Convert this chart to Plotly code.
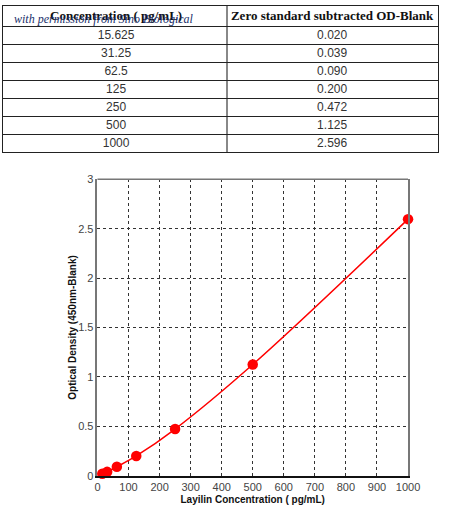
import plotly.graph_objects as go

# ---- data ----
concentration_labels = ["15.625", "31.25", "62.5", "125", "250", "500", "1000"]
od_labels = ["0.020", "0.039", "0.090", "0.200", "0.472", "1.125", "2.596"]
concentration = [15.625, 31.25, 62.5, 125, 250, 500, 1000]
od_values = [0.020, 0.039, 0.090, 0.200, 0.472, 1.125, 2.596]
header_labels = ["Concentration ( pg/mL)", "Zero standard subtracted OD-Blank"]
x_tick_values = [0, 100, 200, 300, 400, 500, 600, 700, 800, 900, 1000]
y_tick_values = [0, 0.5, 1, 1.5, 2, 2.5, 3]
y_tick_text = ["0", "0.5", "1", "1.5", "2", "2.5", "3"]

W, H = 450, 524

def px_x(p):
    return p / W

def px_y(p):
    return 1 - p / H

# ---- table layout (pixel units of the table axes) ----
TABLE_H = 149.5
HEADER_H = 21
ROW_H = (TABLE_H - HEADER_H) / len(concentration_labels)
COL_SPLIT = 232
COL_CENTERS = [117, 340.5]
row_bounds = [HEADER_H + i * ROW_H for i in range(len(concentration_labels))]
row_centers = [HEADER_H + (i + 0.5) * ROW_H + 0.5 for i in range(len(concentration_labels))]

fig = go.Figure()

# header texts
fig.add_trace(go.Scatter(
    x=COL_CENTERS, y=[HEADER_H / 2 + 0.5] * 2, text=["<b>%s</b>" % h for h in header_labels],
    mode="text", textposition="middle center", hoverinfo="skip",
    textfont=dict(family="Liberation Serif", size=13, color="#111"),
    xaxis="x2", yaxis="y2", showlegend=False,
))
# body cells
fig.add_trace(go.Scatter(
    x=[COL_CENTERS[0]] * len(concentration_labels), y=row_centers, text=concentration_labels,
    mode="text", textposition="middle center", hoverinfo="skip",
    textfont=dict(family="Liberation Sans", size=12, color="#333"),
    xaxis="x2", yaxis="y2", showlegend=False,
))
fig.add_trace(go.Scatter(
    x=[COL_CENTERS[1]] * len(od_labels), y=row_centers, text=od_labels,
    mode="text", textposition="middle center", hoverinfo="skip",
    textfont=dict(family="Liberation Sans", size=12, color="#333"),
    xaxis="x2", yaxis="y2", showlegend=False,
))

# standard curve
fig.add_trace(go.Scatter(
    x=concentration, y=od_values, mode="lines+markers",
    line=dict(color="#ff0000", width=1.5, shape="spline"),
    marker=dict(color="#ff0000", size=10.5),
    showlegend=False, cliponaxis=False,
))

grid = dict(showgrid=True, gridcolor="#333", griddash="dot", gridwidth=1)
tickfont = dict(family="Liberation Sans Narrow, Arial Narrow, Liberation Sans", size=11, color="#444")
fig.update_layout(
    xaxis=dict(domain=[px_x(97.7), px_x(419)], range=[0, 1000],
               tickvals=x_tick_values, ticks="", zeroline=False,
               showline=True, linecolor="#111", linewidth=1.5, tickfont=tickfont,
               title=dict(text="<b>Layilin Concentration ( pg/mL)</b>", standoff=4,
                          font=dict(family="Liberation Sans", size=10, color="#111")),
               **grid),
    yaxis=dict(domain=[px_y(480.7), px_y(177.3)], range=[0, 3],
               tickvals=y_tick_values, ticktext=y_tick_text, ticks="", zeroline=False,
               showline=True, linecolor="#777", linewidth=1.5, mirror=True, tickfont=tickfont,
               title=dict(text="<b>Optical Density (450nm-Blank)</b>", standoff=0,
                          font=dict(family="Liberation Sans", size=10, color="#111")),
               **grid),
    xaxis2=dict(domain=[px_x(0.5), px_x(449.5)], range=[0.5, 449.5], anchor="y2",
                tickvals=[COL_SPLIT], showticklabels=False, ticks="", zeroline=False,
                showgrid=True, gridcolor="#888", gridwidth=2,
                showline=True, linecolor="#222", linewidth=1, mirror=True, fixedrange=True),
    yaxis2=dict(domain=[px_y(TABLE_H), 1], range=[TABLE_H, 0], anchor="x2",
                tickvals=row_bounds, showticklabels=False, ticks="", zeroline=False,
                showgrid=True, gridcolor="#222", gridwidth=1,
                showline=True, linecolor="#222", linewidth=1, mirror=True, fixedrange=True),
)

fig.add_shape(type="line", xref="paper", yref="paper",
              x0=px_x(97.7), x1=px_x(419), y0=px_y(177.3), y1=px_y(177.3),
              line=dict(color="#777", width=1.5))

fig.add_annotation(text="<i>with permission from Sino Biological</i>", xref="paper", yref="paper",
                   x=px_x(9), y=px_y(13), xanchor="left", yanchor="middle", showarrow=False,
                   font=dict(family="Liberation Serif", size=12, color="#1a2f6b"))

fig.update_layout(width=W, height=H, margin=dict(l=0, r=0, t=0, b=0), autosize=False,
                  paper_bgcolor="white", plot_bgcolor="white", showlegend=False)

fig.write_html(
    "out.html", config={"displayModeBar": False, "responsive": False},
    post_script=(
        "var de=document.documentElement, b=document.body;"
        "de.style.margin='0';de.style.padding='0';de.style.overflow='hidden';"
        "b.style.margin='0';b.style.padding='0';b.style.overflow='hidden';"
        "b.style.width='450px';b.style.height='524px';"
        "var g=document.getElementById('{plot_id}');"
        "g.parentNode.style.width='450px';g.parentNode.style.height='524px';"
    ),
)
